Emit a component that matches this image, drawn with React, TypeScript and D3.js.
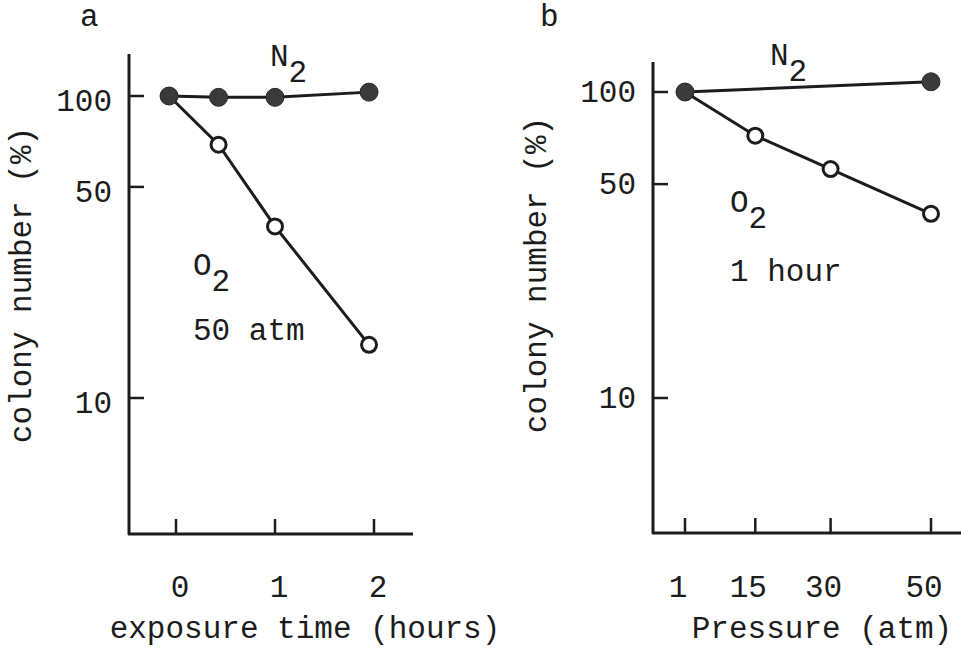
import React from "react";
import * as d3 from "d3";

// ---- data ----
const HOURS = [-0.07, 0.43, 1.0, 1.95];
const N2_A = [100, 99, 99, 103];
const O2_A = [100, 69, 37, 15];

const PRESSURE_N2 = [1, 50];
const N2_B = [100, 108];
const PRESSURE_O2 = [1, 15, 30, 50];
const O2_B = [100, 72, 56, 40];

const Y_TICKS = [10, 50, 100];
const X_TICKS_A = [0, 1, 2];
const X_TICKS_B = [1, 15, 30, 50];

const W = 961;
const H = 653;
const FONT = "'Liberation Mono', 'DejaVu Sans Mono', monospace";
const FS = 31;
const INK = "#1c1c1c";

type Pt = [number, number];

function Panel(props: {
  axisX: number;
  axisTop: number;
  axisBottom: number;
  axisRight: number;
  x: d3.ScaleLinear<number, number>;
  y: d3.ScaleLogarithmic<number, number>;
  xTicks: number[];
  xLabelDx: number;
  yLabelDy: number;
  n2: Pt[];
  o2: Pt[];
}) {
  const { axisX, axisTop, axisBottom, axisRight, x, y, xTicks, xLabelDx, yLabelDy, n2, o2 } = props;
  const line = d3
    .line<Pt>()
    .x((d) => x(d[0]))
    .y((d) => y(d[1]));
  return (
    <g>
      <path
        d={`M${axisX},${axisTop}V${axisBottom}H${axisRight}`}
        fill="none"
        stroke={INK}
        strokeWidth={3}
        strokeLinejoin="round"
      />
      {Y_TICKS.map((t) => (
        <g key={"y" + t}>
          <line x1={axisX} x2={axisX + 15} y1={y(t)} y2={y(t)} stroke={INK} strokeWidth={2.5} />
          <text
            x={axisX - 17}
            y={y(t) + 10 + yLabelDy}
            textAnchor="end"
            fontFamily={FONT}
            fontSize={FS}
            fill={INK}
          >
            {t}
          </text>
        </g>
      ))}
      {xTicks.map((t) => (
        <g key={"x" + t}>
          <line x1={x(t)} x2={x(t)} y1={axisBottom} y2={axisBottom - 15} stroke={INK} strokeWidth={2.5} />
          <text
            x={x(t) + xLabelDx}
            y={597}
            textAnchor="middle"
            fontFamily={FONT}
            fontSize={FS}
            fill={INK}
          >
            {t}
          </text>
        </g>
      ))}
      <path d={line(o2) || ""} fill="none" stroke={INK} strokeWidth={3} />
      <path d={line(n2) || ""} fill="none" stroke={INK} strokeWidth={3} />
      {o2.map((d, i) => (
        <circle key={"o" + i} cx={x(d[0])} cy={y(d[1])} r={7.5} fill="#fff" stroke={INK} strokeWidth={3} />
      ))}
      {n2.map((d, i) => (
        <circle key={"n" + i} cx={x(d[0])} cy={y(d[1])} r={9} fill="#3a3a3a" stroke="#2a2a2a" strokeWidth={1} />
      ))}
    </g>
  );
}

function Sub(props: { x: number; y: number; main: string; sub: string }) {
  return (
    <text x={props.x} y={props.y} fontFamily={FONT} fontSize={FS} fill={INK}>
      {props.main}
      <tspan dy={16}>{props.sub}</tspan>
    </text>
  );
}

export default function App() {
  const xa = d3.scaleLinear().domain([0, 2]).range([176, 374]);
  const ya = d3.scaleLog().domain([10, 100]).range([398, 96]);
  const xb = d3.scaleLinear().domain([1, 50]).range([685, 931]);
  const yb = d3.scaleLog().domain([10, 100]).range([398, 92]);

  const n2a: Pt[] = HOURS.map((h, i) => [h, N2_A[i]]);
  const o2a: Pt[] = HOURS.map((h, i) => [h, O2_A[i]]);
  const n2b: Pt[] = PRESSURE_N2.map((p, i) => [p, N2_B[i]]);
  const o2b: Pt[] = PRESSURE_O2.map((p, i) => [p, O2_B[i]]);

  return (
    <svg
      width={W}
      height={H}
      viewBox={`0 0 ${W} ${H}`}
      style={{ position: "absolute", left: 0, top: 0, background: "#fff" }}
    >
      <rect width={W} height={H} fill="#fff" />
      {/* panel a */}
      <text x={80} y={26} fontFamily={FONT} fontSize={FS} fill={INK}>a</text>
      <Panel
        axisX={129}
        axisTop={54}
        axisBottom={534}
        axisRight={413}
        x={xa}
        y={ya}
        xTicks={X_TICKS_A}
        xLabelDx={4}
        yLabelDy={5}
        n2={n2a}
        o2={o2a}
      />
      <Sub x={270} y={66} main="N" sub="2" />
      <Sub x={193} y={275} main="O" sub="2" />
      <text x={193} y={340} fontFamily={FONT} fontSize={FS} fill={INK}>50 atm</text>
      <text
        transform="translate(31,285) rotate(-90)"
        textAnchor="middle"
        fontFamily={FONT}
        fontSize={FS}
        fill={INK}
      >
        colony number (%)
      </text>
      <text x={305} y={638} textAnchor="middle" fontFamily={FONT} fontSize={FS} fill={INK}>
        exposure time (hours)
      </text>

      {/* panel b */}
      <text x={540} y={26} fontFamily={FONT} fontSize={FS} fill={INK}>b</text>
      <Panel
        axisX={653}
        axisTop={62}
        axisBottom={533}
        axisRight={961}
        x={xb}
        y={yb}
        xTicks={X_TICKS_B}
        xLabelDx={-7}
        yLabelDy={0}
        n2={n2b}
        o2={o2b}
      />
      <Sub x={770} y={65} main="N" sub="2" />
      <Sub x={730} y={212} main="O" sub="2" />
      <text x={730} y={281} fontFamily={FONT} fontSize={FS} fill={INK}>1 hour</text>
      <text
        transform="translate(546,275) rotate(-90)"
        textAnchor="middle"
        fontFamily={FONT}
        fontSize={FS}
        fill={INK}
      >
        colony number (%)
      </text>
      <text x={822} y={638} textAnchor="middle" fontFamily={FONT} fontSize={FS} fill={INK}>
        Pressure (atm)
      </text>
    </svg>
  );
}
